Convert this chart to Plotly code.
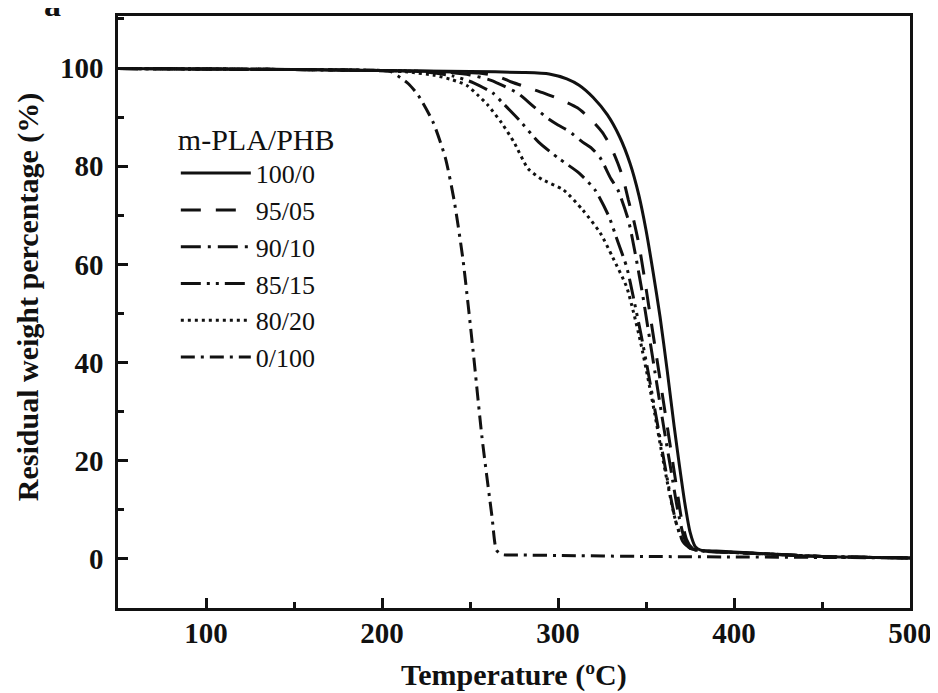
import plotly.graph_objects as go

# ---- data ----
names = ["100/0", "95/05", "90/10", "85/15", "80/20", "0/100"]

t_100_0 = [50, 100, 150, 200, 250, 280, 295, 305, 312, 320, 328, 335, 341, 346, 350, 354, 358, 362, 366, 369, 372, 375, 378, 381, 390, 400, 420, 440, 460, 480, 500]
w_100_0 = [99.9, 99.8, 99.7, 99.5, 99.3, 99.1, 98.8, 97.8, 96.5, 94.0, 90.5, 86.0, 80.5, 74.0, 67.0, 58.5, 49.3, 38.5, 27.0, 19.0, 11.5, 5.5, 2.5, 1.8, 1.6, 1.4, 1.0, 0.6, 0.4, 0.3, 0.2]

t_95_05 = [50, 100, 150, 200, 240, 255, 265, 274, 283, 292, 302, 311, 318, 325, 330, 334, 337, 340, 343, 346, 349, 352, 355, 358, 361, 364, 367, 370, 373, 376, 380, 400, 420, 450, 500]
w_95_05 = [99.9, 99.8, 99.7, 99.5, 99.2, 99.0, 98.4, 97.1, 96.0, 94.9, 93.5, 91.9, 89.8, 87.0, 84.0, 80.6, 77.5, 73.1, 69.0, 64.0, 57.5, 50.5, 43.5, 36.5, 29.5, 22.5, 15.5, 8.5, 4.0, 2.3, 1.7, 1.3, 1.0, 0.5, 0.2]

t_90_10 = [50, 100, 150, 200, 235, 250, 262, 270, 277, 286, 294, 300, 306, 314, 319, 324, 330, 334, 340, 344, 348, 352, 356, 360, 364, 368, 372, 376, 380, 400, 420, 450, 500]
w_90_10 = [99.9, 99.8, 99.7, 99.5, 99.2, 98.6, 97.5, 96.2, 94.9, 92.2, 89.8, 88.4, 87.2, 84.9, 83.7, 81.7, 77.5, 75.2, 69.0, 62.0, 54.0, 45.0, 36.0, 27.0, 18.5, 10.0, 4.0, 2.2, 1.7, 1.3, 1.0, 0.5, 0.2]

t_85_15 = [50, 100, 150, 200, 225, 240, 252, 263, 268, 278, 289, 300, 312, 321, 329, 334, 339, 343, 347, 351, 355, 359, 363, 367, 371, 375, 380, 400, 420, 450, 500]
w_85_15 = [99.9, 99.8, 99.7, 99.5, 99.2, 98.4, 97.0, 94.9, 93.1, 89.4, 84.9, 81.7, 78.6, 75.2, 69.7, 64.6, 59.5, 53.0, 46.0, 38.5, 30.5, 22.5, 14.5, 7.5, 3.5, 2.2, 1.7, 1.3, 1.0, 0.5, 0.2]

t_80_20 = [50, 100, 150, 200, 215, 230, 240, 248, 255, 260, 268, 275, 283, 291, 303, 314, 324, 331, 339, 343, 347, 351, 355, 359, 363, 367, 371, 375, 380, 400, 420, 450, 500]
w_80_20 = [99.9, 99.8, 99.7, 99.5, 99.2, 98.5, 97.6, 96.5, 94.3, 92.5, 88.8, 84.9, 79.5, 77.3, 75.2, 71.1, 66.4, 61.5, 55.4, 50.1, 44.0, 37.0, 29.5, 21.5, 14.0, 7.5, 3.6, 2.2, 1.7, 1.3, 1.0, 0.5, 0.2]

t_0_100 = [50, 100, 150, 190, 205, 209, 215, 220.5, 229, 236, 241, 246, 251.7, 256.8, 262.5, 265, 268, 280, 300, 350, 400, 450, 500]
w_0_100 = [99.9, 99.8, 99.7, 99.5, 99.3, 98.4, 96.8, 94.5, 89.0, 81.7, 73.0, 61.0, 42.6, 24.8, 8.6, 1.8, 0.9, 0.8, 0.7, 0.5, 0.4, 0.3, 0.2]

temps = [t_100_0, t_95_05, t_90_10, t_85_15, t_80_20, t_0_100]
weights = [w_100_0, w_95_05, w_90_10, w_85_15, w_80_20, w_0_100]
dashes = ["solid", "20px,15px", "20px,7px,3px,7px", "20px,6px,3px,6px,3px,6px", "3px,4px", "14px,6px,3px,6px"]

x_ticks = [100, 200, 300, 400, 500]
y_ticks = [0, 20, 40, 60, 80, 100]

FONT = "Liberation Serif, Times New Roman, serif"
INK = "#111111"

fig = go.Figure()
for t, w, n, d in zip(temps, weights, names, dashes):
    fig.add_trace(go.Scatter(x=t, y=w, mode="lines", name=n,
                             line=dict(color=INK, width=3, dash=d, shape="spline", smoothing=0.6)))

axis_common = dict(
    showline=True, linecolor=INK, linewidth=2.5, mirror=True,
    ticks="inside", tickcolor=INK, tickwidth=2.5, ticklen=10,
    showgrid=False, zeroline=False,
    tickfont=dict(family=FONT, size=29, color=INK, weight="bold"),
)

fig.update_xaxes(range=[50, 500], tickvals=x_ticks, ticklabelstandoff=-3,
                 minor=dict(dtick=50, tick0=0, ticks="inside", ticklen=6, tickwidth=2.5, tickcolor=INK),
                 **axis_common)
fig.update_yaxes(range=[-10, 110.6], tickvals=y_ticks, ticklabelstandoff=6,
                 minor=dict(dtick=10, tick0=0, ticks="inside", ticklen=6, tickwidth=2.5, tickcolor=INK),
                 **axis_common)

fig.update_layout(
    width=930, height=685,
    margin=dict(l=110, r=28, t=8, b=85, autoexpand=False),
    plot_bgcolor="white", paper_bgcolor="white",
    font=dict(family=FONT, color=INK),
    legend=dict(
        title=dict(text="m-PLA/PHB", font=dict(family=FONT, size=30, color=INK)),
        font=dict(family=FONT, size=26, color=INK),
        x=0.073, y=0.84, xanchor="left", yanchor="top",
        bgcolor="rgba(0,0,0,0)", borderwidth=0,
        itemwidth=70, tracegroupgap=0,
    ),
    annotations=[
        dict(text="<b>Temperature (ºC)</b>", xref="paper", yref="paper", x=0.5, y=-0.113,
             xanchor="center", yanchor="middle", showarrow=False,
             font=dict(family=FONT, size=30, color=INK)),
        dict(text="<b>Residual weight percentage (%)</b>", xref="paper", yref="paper", x=-0.1136, y=0.525,
             xanchor="center", yanchor="middle", textangle=-90, showarrow=False,
             font=dict(family=FONT, size=30, color=INK)),
        dict(text="<b>a</b>", xref="paper", yref="paper", x=-0.083, y=1.02,
             xanchor="center", yanchor="middle", showarrow=False,
             font=dict(family=FONT, size=34, color=INK)),
    ],
)

fig.write_html("out.html")
